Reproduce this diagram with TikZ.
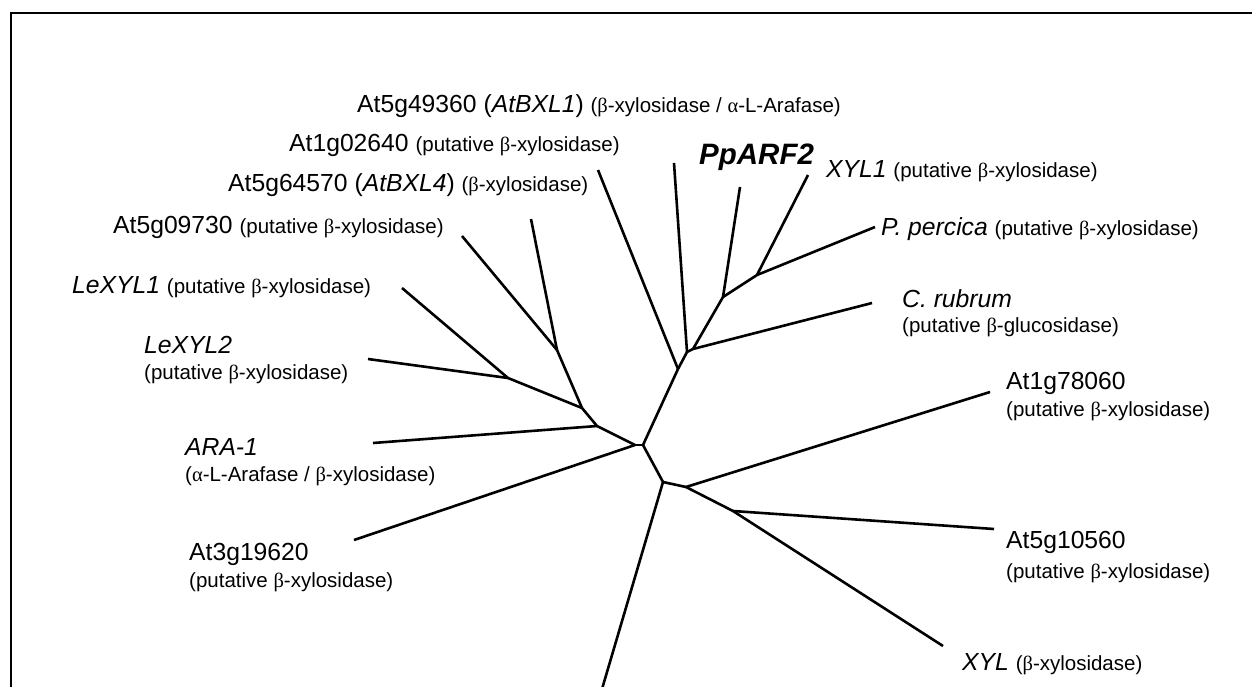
\documentclass[tikz,border=0pt]{standalone}
\usepackage{fontspec}
\setmainfont{Liberation Sans}
\newfontfamily\grkfont{Liberation Serif}
\newcommand\mybeta{{\grkfont β}}
\newcommand\myalpha{{\grkfont α}}
\newcommand\sm{\fontsize{20.5}{24}\selectfont}
\tikzset{
  lbl/.style={font=\fontsize{24.7}{28}\selectfont, anchor=base west, inner sep=0pt},
  sublbl/.style={font=\sm, anchor=base west, inner sep=0pt},
  branch/.style={line width=2.6pt, line join=round},
  frame/.style={line width=1.8pt}
}
\begin{document}
\begin{tikzpicture}[x=1pt,y=-1pt]
\useasboundingbox (0,0) rectangle (1252,686);
\clip (0,0) rectangle (1252,686);
\fill[white] (0,0) rectangle (1252,686);
% frame
\coordinate (fa) at (11,700);
\coordinate (fb) at (11,13);
\coordinate (fc) at (1265,13);
\draw[frame] (fa) -- (fb) -- (fc);
% internal nodes
\coordinate (n0) at (643,445);
\coordinate (n3) at (635,445);
\coordinate (n1) at (678,369);
\coordinate (n2) at (663,482);
\coordinate (n4) at (597,426);
\coordinate (n5) at (582,408);
\coordinate (n6) at (557,350);
\coordinate (n7) at (508,378);
\coordinate (n8) at (687,352);
\coordinate (n9) at (693,349);
\coordinate (n10) at (723,297);
\coordinate (n11) at (757,275);
\coordinate (n12) at (686,487);
\coordinate (n13) at (733,511);
% leaves
\coordinate (lAt5g09730) at (462,236);
\coordinate (lAt5g64570) at (531,219);
\coordinate (lAt1g02640) at (598,170);
\coordinate (lAt5g49360) at (674,163);
\coordinate (lPpARF2) at (740,187);
\coordinate (lXYL1) at (808,175);
\coordinate (lLeXYL1) at (402,288);
\coordinate (lLeXYL2) at (368,359);
\coordinate (lARA) at (373,443);
\coordinate (lAt3g19620) at (354,540);
\coordinate (lPpercica) at (875,227);
\coordinate (lCrubrum) at (872,303);
\coordinate (lAt1g78060) at (990,392);
\coordinate (lAt5g10560) at (994,529);
\coordinate (lXYL) at (943,646);
\coordinate (lBottom) at (597,706);
% branches
\draw[branch] (n3) -- (n0);
\draw[branch] (n0) -- (n1);
\draw[branch] (n0) -- (n2);
\draw[branch] (n3) -- (lAt3g19620);
\draw[branch] (n3) -- (n4);
\draw[branch] (n4) -- (lARA);
\draw[branch] (n4) -- (n5);
\draw[branch] (n5) -- (n6);
\draw[branch] (n5) -- (n7);
\draw[branch] (n7) -- (lLeXYL1);
\draw[branch] (n7) -- (lLeXYL2);
\draw[branch] (n6) -- (lAt5g09730);
\draw[branch] (n6) -- (lAt5g64570);
\draw[branch] (n1) -- (lAt1g02640);
\draw[branch] (n1) -- (n8);
\draw[branch] (n8) -- (lAt5g49360);
\draw[branch] (n8) -- (n9);
\draw[branch] (n9) -- (lCrubrum);
\draw[branch] (n9) -- (n10);
\draw[branch] (n10) -- (lPpARF2);
\draw[branch] (n10) -- (n11);
\draw[branch] (n11) -- (lXYL1);
\draw[branch] (n11) -- (lPpercica);
\draw[branch] (n2) -- (lBottom);
\draw[branch] (n2) -- (n12);
\draw[branch] (n12) -- (lAt1g78060);
\draw[branch] (n12) -- (n13);
\draw[branch] (n13) -- (lAt5g10560);
\draw[branch] (n13) -- (lXYL);
% labels
\node[lbl] (tAt5g49360) at (357,112) {At5g49360 (\textit{AtBXL1}) {\sm(\mybeta-xylosidase / \myalpha-L-Arafase)}};
\node[lbl] (tAt1g02640) at (289,151) {At1g02640 {\sm(putative \mybeta-xylosidase)}};
\node[lbl] (tAt5g64570) at (228,191) {At5g64570 (\textit{AtBXL4}) {\sm(\mybeta-xylosidase)}};
\node[lbl] (tAt5g09730) at (113,233) {At5g09730 {\sm(putative \mybeta-xylosidase)}};
\node[lbl] (tLeXYL1) at (72,293) {\textit{LeXYL1} {\sm(putative \mybeta-xylosidase)}};
\node[lbl] (tLeXYL2) at (144,353) {\textit{LeXYL2}};
\node[sublbl] (sLeXYL2) at (144,379) {(putative \mybeta-xylosidase)};
\node[lbl] (tARA) at (185,455) {\textit{ARA-1}};
\node[sublbl] (sARA) at (185,481) {(\myalpha-L-Arafase / \mybeta-xylosidase)};
\node[lbl] (tAt3g19620) at (189,560) {At3g19620};
\node[sublbl] (sAt3g19620) at (189,587) {(putative \mybeta-xylosidase)};
\node[lbl, font=\fontsize{29.5}{32}\selectfont\bfseries\itshape] (tPpARF2) at (699,164) {PpARF2};
\node[lbl] (tXYL1) at (826,177) {\textit{XYL1} {\sm(putative \mybeta-xylosidase)}};
\node[lbl] (tPpercica) at (881,235) {\textit{P. percica} {\sm(putative \mybeta-xylosidase)}};
\node[lbl] (tCrubrum) at (902,307) {\textit{C. rubrum}};
\node[sublbl] (sCrubrum) at (902,332) {(putative \mybeta-glucosidase)};
\node[lbl] (tAt1g78060) at (1006,389) {At1g78060};
\node[sublbl] (sAt1g78060) at (1006,416) {(putative \mybeta-xylosidase)};
\node[lbl] (tAt5g10560) at (1006,548) {At5g10560};
\node[sublbl] (sAt5g10560) at (1006,578) {(putative \mybeta-xylosidase)};
\node[lbl] (tXYL) at (962,670) {\textit{XYL} {\sm(\mybeta-xylosidase)}};
\end{tikzpicture}
\end{document}
